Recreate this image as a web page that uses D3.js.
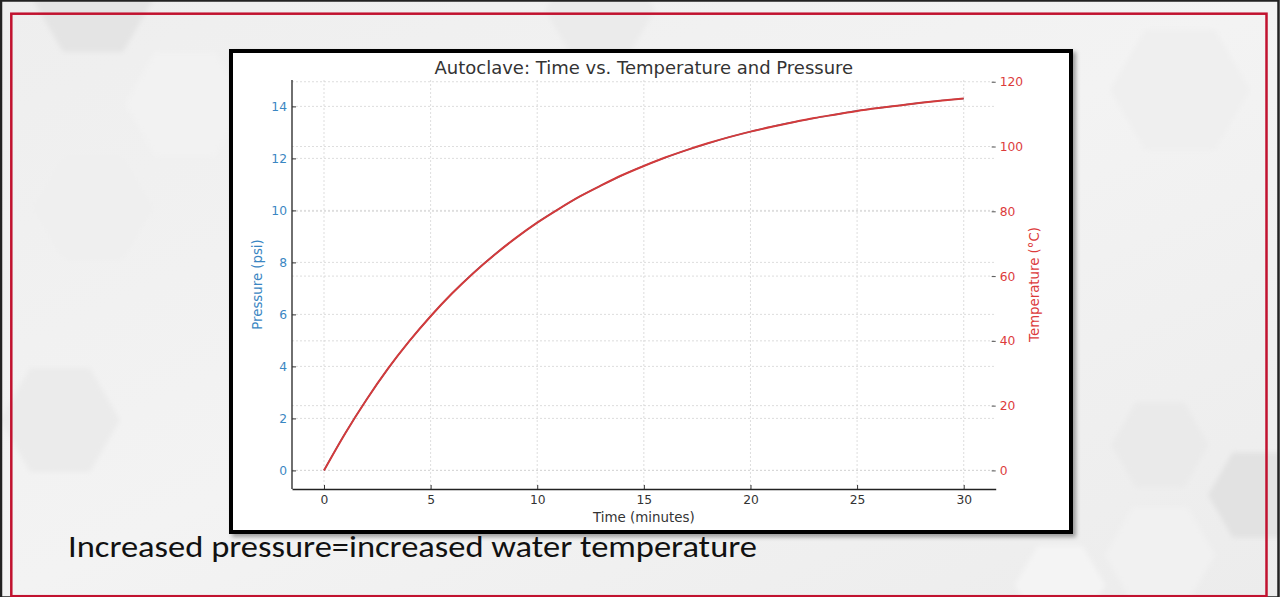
<!DOCTYPE html>
<html>
<head>
<meta charset="utf-8">
<script src="https://cdn.jsdelivr.net/npm/d3@7"></script>
<style>
  html, body { margin: 0; padding: 0; background: #ededed; }
  svg { display: block; }
</style>
</head>
<body>
<script>
// ====================== data ======================
var minutes = [0, 1, 2, 3, 4, 5, 6, 7, 8, 9, 10, 11, 12, 13, 14, 15,
               16, 17, 18, 19, 20, 21, 22, 23, 24, 25, 26, 27, 28, 29, 30];
var temperature = [0, 11.5, 21.9, 31.4, 39.9, 47.6, 54.6, 60.9, 66.6, 71.8, 76.5,
                   80.7, 84.6, 88.0, 91.2, 94.0, 96.6, 98.9, 101.0, 102.9, 104.6,
                   106.1, 107.5, 108.8, 109.9, 111.0, 111.9, 112.7, 113.5, 114.2, 114.8];
// pressure trace sits right under the temperature trace
var pressure = [0, 1.43, 2.73, 3.91, 4.97, 5.93, 6.80, 7.59, 8.30, 8.94, 9.53,
                10.05, 10.54, 10.96, 11.36, 11.71, 12.03, 12.32, 12.58, 12.82, 13.03,
                13.22, 13.39, 13.55, 13.69, 13.83, 13.94, 14.04, 14.14, 14.23, 14.30];
var timeTicks = [0, 5, 10, 15, 20, 25, 30];
var pressureTicks = [0, 2, 4, 6, 8, 10, 12, 14];
var tempTicks = [0, 20, 40, 60, 80, 100, 120];

var titleText = 'Autoclave: Time vs. Temperature and Pressure';
var captionText = 'Increased pressure=increased water temperature';

// ====================== layout ======================
var W = 1280, H = 597;
var plot = { left: 292, right: 995.7, top: 80, bottom: 489 };
var blue = '#1f77b4', red = '#d43a3a';
var font = 'DejaVu Sans, sans-serif';

var svg = d3.select('body').append('svg').attr('width', W).attr('height', H);
var defs = svg.append('defs');

var bg = defs.append('linearGradient').attr('id', 'bg').attr('x1', 0).attr('y1', 0).attr('x2', 1).attr('y2', 1);
bg.append('stop').attr('offset', 0).attr('stop-color', '#eeeeee');
bg.append('stop').attr('offset', 0.5).attr('stop-color', '#f3f3f3');
bg.append('stop').attr('offset', 1).attr('stop-color', '#ececec');

var blur = defs.append('filter').attr('id', 'soft');
blur.append('feGaussianBlur').attr('stdDeviation', 2.5);

var shadow = defs.append('filter').attr('id', 'shadow').attr('x', '-5%').attr('y', '-5%').attr('width', '110%').attr('height', '110%');
shadow.append('feDropShadow').attr('dx', 3).attr('dy', 3).attr('stdDeviation', 2)
  .attr('flood-color', '#000').attr('flood-opacity', 0.35);

// slide background
svg.append('rect').attr('width', W).attr('height', H).attr('fill', 'url(#bg)');

// decorative hexagons (flat top)
var hexes = [
  { cx: 93, cy: 0, r: 60, fill: '#e4e4e4' },
  { cx: 185, cy: 104, r: 60, fill: '#f2f2f2' },
  { cx: 93, cy: 208, r: 60, fill: '#efefef' },
  { cx: 60, cy: 420, r: 60, fill: '#ebebeb' },
  { cx: 1257, cy: 495, r: 49, fill: '#e2e2e2' },
  { cx: 1160, cy: 445, r: 49, fill: '#eaeaea' },
  { cx: 1160, cy: 555, r: 55, fill: '#f1f1f1' },
  { cx: 1060, cy: 585, r: 45, fill: '#f4f4f4' },
  { cx: 1180, cy: 90, r: 70, fill: '#efefef' },
  { cx: 600, cy: 10, r: 55, fill: '#ebebeb' }
];
function hexPoints(h) {
  return d3.range(6).map(function(i) {
    var a = Math.PI / 3 * i;
    return [h.cx + h.r * Math.cos(a), h.cy + h.r * Math.sin(a)];
  }).join(' ');
}
svg.append('g').attr('filter', 'url(#soft)').selectAll('polygon').data(hexes).join('polygon')
  .attr('points', hexPoints).attr('fill', function(d) { return d.fill; });

// outer dark frame + red border
svg.append('rect').attr('x', 1).attr('y', 0.5).attr('width', W - 2.5).attr('height', H)
  .attr('fill', 'none').attr('stroke', '#222').attr('stroke-width', 2.5);
svg.append('rect').attr('x', 11.3).attr('y', 13.7).attr('width', 1255.2).attr('height', 582.5)
  .attr('fill', 'none').attr('stroke', '#c1122f').attr('stroke-width', 2.5);

// chart picture box
svg.append('rect').attr('x', 231).attr('y', 51).attr('width', 840).attr('height', 481)
  .attr('fill', '#fff').attr('stroke', '#000').attr('stroke-width', 4)
  .attr('filter', 'url(#shadow)');

// ====================== scales ======================
function padded(vals) {
  var e = d3.extent(vals), p = (e[1] - e[0]) * 0.05;
  return [e[0] - p, e[1] + p];
}
var x = d3.scaleLinear().domain(padded(minutes)).range([plot.left, plot.right]);
var yP = d3.scaleLinear().domain(padded(pressure)).range([plot.bottom, plot.top]);
var yT = d3.scaleLinear().domain(padded(temperature)).range([plot.bottom, plot.top]);

// ====================== grid ======================
var grid = svg.append('g').attr('stroke', '#d4d4d4').attr('stroke-width', 0.8).attr('stroke-dasharray', '2,2');
grid.selectAll('.gx').data(timeTicks).join('line').attr('class', 'gx')
  .attr('x1', x).attr('x2', x).attr('y1', plot.top).attr('y2', plot.bottom);
grid.selectAll('.gp').data(pressureTicks).join('line').attr('class', 'gp')
  .attr('x1', plot.left).attr('x2', plot.right).attr('y1', yP).attr('y2', yP);
grid.selectAll('.gt').data(tempTicks).join('line').attr('class', 'gt')
  .attr('x1', plot.left).attr('x2', plot.right).attr('y1', yT).attr('y2', yT);

// ====================== lines ======================
var pLine = d3.line().x(function(d, i) { return x(minutes[i]); }).y(function(d) { return yP(d); }).curve(d3.curveMonotoneX);
var tLine = d3.line().x(function(d, i) { return x(minutes[i]); }).y(function(d) { return yT(d); }).curve(d3.curveMonotoneX);
svg.append('path').attr('d', pLine(pressure)).attr('fill', 'none').attr('stroke', blue).attr('stroke-width', 1.4);
svg.append('path').attr('d', tLine(temperature)).attr('fill', 'none').attr('stroke', red).attr('stroke-width', 2);

// ====================== axes ======================
function styleAxis(g, textColor, tickColor) {
  g.selectAll('text').attr('fill', textColor).style('font-family', font).style('font-size', '12.3px');
  g.selectAll('.tick line').attr('stroke', tickColor).attr('stroke-width', 1);
  g.select('.domain').attr('stroke', '#222').attr('stroke-width', 1.3);
}
var xAxis = svg.append('g').attr('transform', 'translate(0,' + plot.bottom + ')')
  .call(d3.axisBottom(x).tickValues(timeTicks).tickSizeInner(-4).tickSizeOuter(0).tickPadding(6));
styleAxis(xAxis, '#333', '#333');

var pAxis = svg.append('g').attr('transform', 'translate(' + plot.left + ',0)')
  .call(d3.axisLeft(yP).tickValues(pressureTicks).tickSizeInner(-4).tickSizeOuter(0).tickPadding(5));
styleAxis(pAxis, '#3a86c2', '#333');
pAxis.select('.domain').attr('d', 'M0,' + plot.bottom + 'V' + plot.top);

var tAxis = svg.append('g').attr('transform', 'translate(' + plot.right + ',0)')
  .call(d3.axisRight(yT).tickValues(tempTicks).tickSizeInner(-4).tickSizeOuter(0).tickPadding(4));
styleAxis(tAxis, '#dc3b3b', '#555');
tAxis.select('.domain').remove();

// ====================== labels ======================
var cx = (plot.left + plot.right) / 2, cy = (plot.top + plot.bottom) / 2;
svg.append('text').attr('x', cx).attr('y', 74).attr('text-anchor', 'middle')
  .style('font-family', font).style('font-size', '18px').attr('fill', '#333').text(titleText);
svg.append('text').attr('x', cx).attr('y', 522).attr('text-anchor', 'middle')
  .style('font-family', font).style('font-size', '13.4px').attr('fill', '#333').text('Time (minutes)');
svg.append('text').attr('transform', 'translate(262,' + cy + ') rotate(-90)').attr('text-anchor', 'middle')
  .style('font-family', font).style('font-size', '13.3px').attr('fill', '#3a86c2').text('Pressure (psi)');
svg.append('text').attr('transform', 'translate(1039,' + cy + ') rotate(-90)').attr('text-anchor', 'middle')
  .style('font-family', font).style('font-size', '13.3px').attr('fill', '#dc3b3b').text('Temperature (°C)');

// caption under the picture
svg.append('text').attr('x', 68).attr('y', 557)
  .attr('textLength', 689).attr('lengthAdjust', 'spacingAndGlyphs')
  .style('font-family', 'Carlito, Open Sans, sans-serif').style('font-size', '31px').attr('fill', '#111')
  .text(captionText);
</script>
</body>
</html>
